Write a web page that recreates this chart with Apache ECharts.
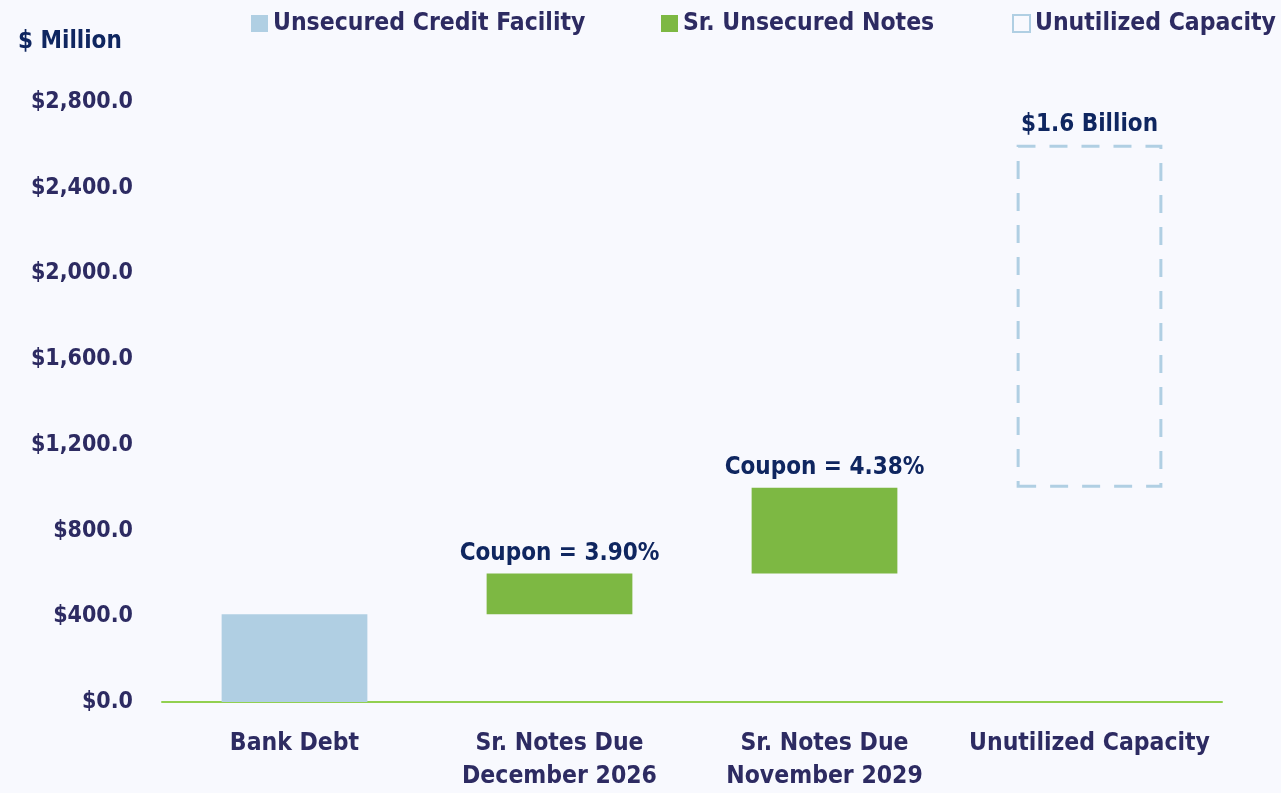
<!DOCTYPE html>
<html>
<head>
<meta charset="utf-8">
<script src="https://cdn.jsdelivr.net/npm/echarts@6/dist/echarts.min.js"></script>
<style>
  html, body { margin: 0; padding: 0; background: #F8F9FE; }
  #chart { width: 1281px; height: 793px; }
</style>
</head>
<body>
<div id="chart"></div>
<script>
var categories = ['Bank Debt', 'Sr. Notes Due\nDecember 2026', 'Sr. Notes Due\nNovember 2029', 'Unutilized Capacity'];
var baseValues = [0, 410, 600, 1000];
var creditFacility = [410, '-', '-', '-'];
var seniorNotes = ['-', 190, 400, '-'];
var unutilized = ['-', '-', '-', 1600];
var couponLabels = ['', 'Coupon = 3.90%', 'Coupon = 4.38%', ''];
var capacityLabel = '$1.6 Billion';
var legendNames = ['Unsecured Credit Facility', 'Sr. Unsecured Notes', 'Unutilized Capacity'];
var legendLefts = [246, 656, 1007];

var font = '"DejaVu Sans Condensed", sans-serif';
var navy = '#0F2660';
var axisNavy = '#2D2B62';
var lightBlue = '#B0CFE3';
var green = '#7DB843';

var dom = document.getElementById('chart');
var myChart = echarts.init(dom, null, { renderer: 'canvas' });

var legends = legendNames.map(function (name, i) {
  return {
    left: legendLefts[i],
    top: 6,
    icon: 'rect',
    itemWidth: 17,
    itemHeight: 17,
    data: [name],
    textStyle: { fontFamily: font, fontWeight: 'bold', fontSize: 24.5, color: axisNavy }
  };
});

var option = {
  backgroundColor: '#F8F9FE',
  animation: false,
  title: {
    text: '$ Million',
    left: 13,
    top: 25,
    textStyle: { fontFamily: font, fontWeight: 'bold', fontSize: 24, color: navy }
  },
  legend: legends,
  grid: { left: 162, right: 59, top: 102, bottom: 90 },
  xAxis: {
    type: 'category',
    data: categories,
    axisLine: { lineStyle: { color: '#92D050', width: 2 } },
    axisTick: { show: false },
    axisLabel: {
      interval: 0,
      margin: 25,
      lineHeight: 33,
      fontFamily: font, fontWeight: 'bold', fontSize: 24.5, color: axisNavy
    }
  },
  yAxis: {
    type: 'value',
    min: 0,
    max: 2800,
    interval: 400,
    splitLine: { show: false },
    axisLine: { show: false },
    axisTick: { show: false },
    axisLabel: {
      margin: 29,
      fontFamily: font, fontWeight: 'bold', fontSize: 23, color: axisNavy,
      formatter: function (v) {
        return '$' + v.toLocaleString('en-US') + '.0';
      }
    }
  },
  series: [
    {
      name: 'base',
      type: 'bar',
      stack: 'total',
      barWidth: '55%',
      data: baseValues,
      itemStyle: { color: 'transparent' },
      silent: true
    },
    {
      name: 'Unsecured Credit Facility',
      type: 'bar',
      stack: 'total',
      data: creditFacility,
      itemStyle: { color: lightBlue }
    },
    {
      name: 'Sr. Unsecured Notes',
      type: 'bar',
      stack: 'total',
      data: seniorNotes,
      itemStyle: { color: green },
      label: {
        show: true,
        position: 'top',
        distance: 8,
        fontFamily: font, fontWeight: 'bold', fontSize: 24, color: navy,
        formatter: function (p) { return couponLabels[p.dataIndex]; }
      }
    },
    {
      name: 'Unutilized Capacity',
      type: 'bar',
      stack: 'total',
      data: unutilized,
      itemStyle: {
        color: 'transparent',
        borderColor: lightBlue,
        borderWidth: 3,
        borderType: [18, 14]
      },
      label: {
        show: true,
        position: 'top',
        distance: 8,
        fontFamily: font, fontWeight: 'bold', fontSize: 24, color: navy,
        formatter: function () { return capacityLabel; }
      }
    }
  ]
};

myChart.setOption(option);
window.addEventListener('resize', myChart.resize);
</script>
</body>
</html>
